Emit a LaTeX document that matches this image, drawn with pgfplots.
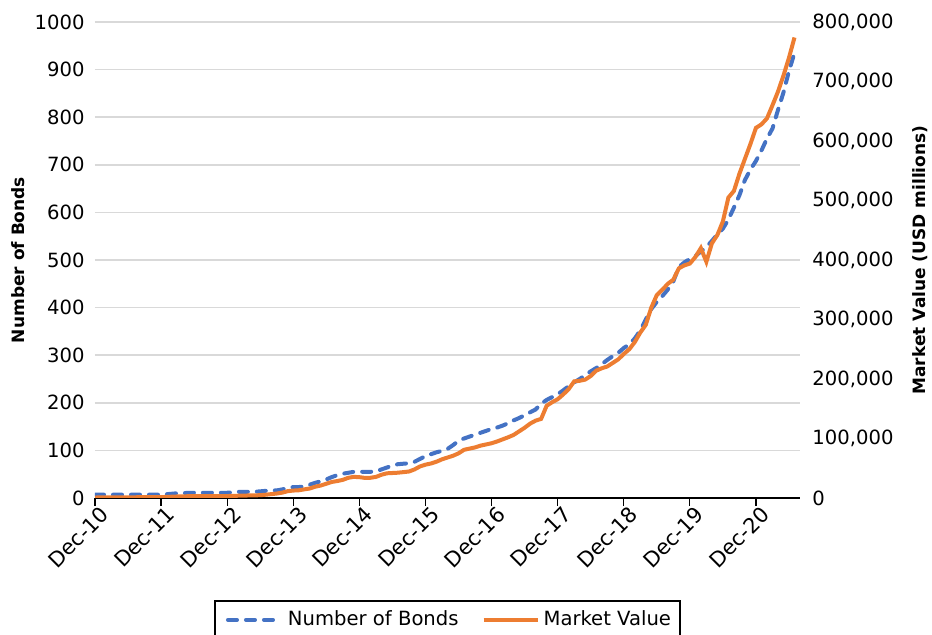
\documentclass[border=0pt]{standalone}
\usepackage{pgfplots}
\pgfplotsset{compat=1.18}
\usepackage{pgfplotstable}
\usepackage{fontspec}
\setmainfont{DejaVu Sans}
\definecolor{bondblue}{HTML}{4472C4}
\definecolor{mvorange}{HTML}{ED7D31}
\definecolor{gridgray}{HTML}{D9D9D9}

% months since Dec-10, number of bonds, market value (USD millions)
\pgfplotstableread{
m bonds mv
0 7 800
1 7 900
2 7 1000
3 7 1000
4 7 1100
5 7 1100
6 7 1200
7 7 1200
8 7 1300
9 7 1300
10 7 1400
11 7 1400
12 7 1500
13 8 1800
14 9 2200
15 10 2600
16 10 2800
17 11 3000
18 11 3000
19 11 3100
20 11 3100
21 11 3200
22 11 3200
23 11 3300
24 11 3300
25 12 3500
26 13 3800
27 13 4000
28 13 4300
29 13 4500
30 14 4700
31 15 5500
32 16 6500
33 16 7500
34 18 9000
35 21 11500
36 23 12500
37 23 13000
38 24 14500
39 28 16000
40 32 19000
41 35 21000
42 39 24000
43 44 27000
44 48 28500
45 51 30500
46 53 34000
47 55 35500
48 55 35000
49 55 33800
50 55 34000
51 56 35400
52 60 39000
53 64 41500
54 68 42000
55 71 42500
56 72 43500
57 73 44500
58 76 48000
59 82 53000
60 88 56000
61 92 58000
62 96 61000
63 99 65000
64 103 68000
65 111 71000
66 120 75000
67 125 81000
68 129 83000
69 133 85000
70 137 88000
71 141 90000
72 145 92000
73 148 95000
74 152 98500
75 157 102000
76 163 106000
77 168 112000
78 174 118000
79 180 125000
80 186 130000
81 198 133000
82 206 155000
83 212 161000
84 218 166000
85 226 174000
86 235 183000
87 243 196000
88 250 197000
89 258 199000
90 266 205000
91 273 214000
92 281 218000
93 290 221000
94 298 227000
95 305 233000
96 315 242000
97 323 250000
98 335 262000
99 352 278000
100 375 291000
101 397 320000
102 412 341000
103 424 350000
104 438 360000
105 455 367000
106 485 386000
107 495 391000
108 502 394000
109 508 405000
110 518 420000
111 527 397000
112 540 428000
113 554 442000
114 566 465000
115 585 505000
116 610 516000
117 636 545000
118 668 570000
119 690 595000
120 708 622000
121 730 628000
122 755 638000
123 776 660000
124 815 683000
125 852 710000
126 897 740000
127 935 774000
}\datatable

\begin{document}
\begin{tikzpicture}
\pgfplotsset{
  every axis/.append style={
    scale only axis,
    width=352.5pt, height=238pt,
    xmin=0, xmax=128,
    font=\fontsize{9.8}{12}\selectfont,
    /pgf/number format/assume math mode=true,
    tick style={black, line width=0.6pt},
  },
}
\begin{axis}[
  name=main,
  ymin=0, ymax=1000,
  ytick={0,100,...,1000},
  yticklabel style={/pgf/number format/1000 sep={}, xshift=-1.7pt},
  axis x line*=bottom,
  axis y line*=left,
  y axis line style={draw=none},
  x axis line style={line width=0.8pt},
  major y tick style={draw=none},
  ymajorgrids,
  grid style={gridgray, line width=0.8pt},
  xtick={0,12,...,120},
  xticklabels={Dec-10,Dec-11,Dec-12,Dec-13,Dec-14,Dec-15,Dec-16,Dec-17,Dec-18,Dec-19,Dec-20},
  xticklabel style={rotate=45, anchor=north east, inner sep=1pt, xshift=3pt,
    font=\fontsize{10.5}{12}\selectfont},
  major tick length=4pt,
  xtick align=outside,
  ylabel={\bfseries Number of Bonds},
  ylabel style={font=\fontsize{8.5}{10}\selectfont,
    at={([xshift=-38.5pt]axis description cs:0,0.5)}, anchor=center},
]
\addplot[bondblue, line width=2pt, dash pattern=on 4.5pt off 4.5pt, line cap=round] table[x=m, y=bonds] {\datatable};
\end{axis}
\begin{axis}[
  ymin=0, ymax=800000,
  ytick={0,100000,...,800000},
  scaled y ticks=false,
  yticklabel style={/pgf/number format/fixed, /pgf/number format/1000 sep={,}, xshift=2.7pt},
  axis x line=none,
  axis y line*=right,
  y axis line style={draw=none},
  major y tick style={draw=none},
  ylabel={\bfseries Market Value (USD millions)},
  ylabel style={font=\fontsize{8.5}{10}\selectfont,
    at={([xshift=60pt]axis description cs:1,0.5)}, anchor=center},
  legend style={at={(0.5,-0.215)}, anchor=north, legend columns=2,
    draw=black, line width=0.6pt, font=\fontsize{9.8}{12}\selectfont,
    /tikz/every even column/.append style={column sep=6.5pt},
    inner xsep=2.5pt, inner ysep=3pt},
  legend image code/.code={\path (0pt,0pt); \draw[#1] (3pt,0pt) -- (30pt,0pt);},
  legend cell align=left,
]
\addlegendimage{bondblue, line width=2pt, dash pattern=on 4.5pt off 4.5pt, line cap=round}
\addlegendentry{Number of Bonds}
\addplot[mvorange, line width=2pt] table[x=m, y=mv] {\datatable};
\addlegendentry{Market Value}
\end{axis}
\pgfresetboundingbox
\path[use as bounding box] ([shift={(-47.5pt,-68.5pt)}]main.south west) rectangle ([shift={(66pt,11pt)}]main.north east);
\end{tikzpicture}
\end{document}
